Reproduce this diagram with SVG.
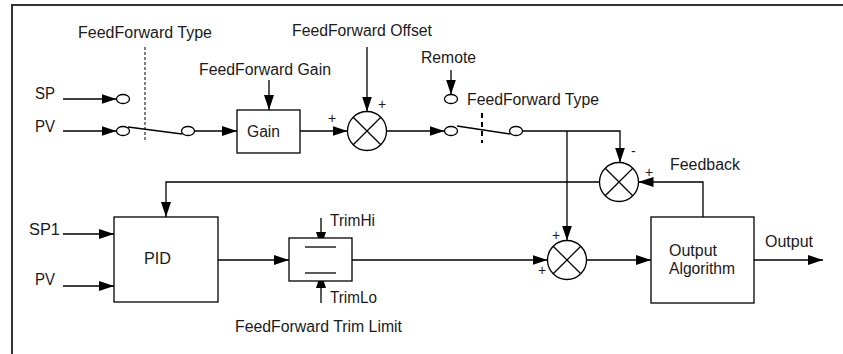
<svg xmlns="http://www.w3.org/2000/svg" width="843" height="354" viewBox="0 0 843 354">
<style>
text{font-family:"Liberation Sans",Arial,sans-serif;font-size:16px;fill:#1a1a1a}
.s{font-size:14px}
.ln{stroke:#000;stroke-width:1.3;fill:none}
.ar{stroke:#000;stroke-width:1.3;fill:none;marker-end:url(#ah)}
.box{stroke:#000;stroke-width:1.3;fill:#fff}
.ct{stroke:#000;stroke-width:1.3;fill:#fff}
</style>
<defs>
<marker id="ah" markerUnits="userSpaceOnUse" markerWidth="15" markerHeight="10" refX="15" refY="5" orient="auto">
<path d="M0,0 L15,5 L0,10 z" fill="#000"/>
</marker>
</defs>
<rect width="843" height="354" fill="#fff"/>
<polyline points="12,354 12,5 843,5" fill="none" stroke="#333" stroke-width="2"/>

<g id="connectors">
<line class="ar" x1="63" y1="99" x2="116.5" y2="99"/>
<line class="ar" x1="63" y1="131" x2="116.5" y2="131"/>
<line class="ln" x1="128" y1="127" x2="182" y2="134"/>
<line x1="145" y1="47" x2="145" y2="140" stroke="#000" stroke-width="1" stroke-dasharray="3,2"/>
<line class="ar" x1="194.5" y1="131" x2="237" y2="131"/>
<line class="ar" x1="269" y1="80" x2="269" y2="110"/>
<line class="ar" x1="300" y1="131" x2="347.5" y2="131"/>
<line class="ar" x1="367" y1="47" x2="367" y2="111.5"/>
<line class="ar" x1="386.5" y1="131" x2="444.5" y2="131"/>
<line class="ar" x1="451" y1="70" x2="451" y2="94.5"/>
<line class="ln" x1="457" y1="126" x2="510" y2="134"/>
<line x1="482" y1="113" x2="482" y2="143" stroke="#000" stroke-width="2" stroke-dasharray="5,4"/>
<polyline class="ar" points="522.5,131 620,131 620,162.5"/>
<line class="ar" x1="567" y1="131" x2="567" y2="240.5"/>
<polyline class="ar" points="599.5,182 166,182 166,217"/>
<polyline class="ar" points="703,217 703,182 638.5,182"/>
<line class="ar" x1="63" y1="234" x2="114" y2="234"/>
<line class="ar" x1="63" y1="286" x2="114" y2="286"/>
<line class="ar" x1="218" y1="260" x2="289" y2="260"/>
<line class="ar" x1="321" y1="218" x2="321" y2="247"/>
<line class="ar" x1="321" y1="303" x2="321" y2="273"/>
<line class="ar" x1="352" y1="260" x2="547.5" y2="260"/>
<line class="ar" x1="586.5" y1="260" x2="651" y2="260"/>
<line class="ar" x1="754" y1="260" x2="823" y2="260"/>
</g>

<g id="contact-sp"><ellipse class="ct" cx="123" cy="99" rx="6.5" ry="4.5"/></g>
<g id="contact-pv"><ellipse class="ct" cx="123" cy="131" rx="6.5" ry="4.5"/></g>
<g id="contact-ff1"><ellipse class="ct" cx="188" cy="131" rx="6.5" ry="4.5"/></g>
<g id="contact-in2"><ellipse class="ct" cx="451" cy="131" rx="6.5" ry="4.5"/></g>
<g id="contact-remote"><ellipse class="ct" cx="451" cy="99" rx="6.5" ry="4.5"/></g>
<g id="contact-out2"><ellipse class="ct" cx="516" cy="131" rx="6.5" ry="4.5"/></g>

<g id="gain">
<rect class="box" x="237" y="110" width="63" height="43"/>
<text x="247" y="137" textLength="33" lengthAdjust="spacingAndGlyphs">Gain</text>
</g>

<g id="sum-offset">
<circle class="box" cx="367" cy="131" r="19.5"/>
<path class="ln" d="M353.2,117.2 L380.8,144.8 M380.8,117.2 L353.2,144.8"/>
</g>

<g id="sum-feedback">
<circle class="box" cx="619" cy="182" r="19.5"/>
<path class="ln" d="M605.2,168.2 L632.8,195.8 M632.8,168.2 L605.2,195.8"/>
</g>

<g id="sum-output">
<circle class="box" cx="567" cy="260" r="19.5"/>
<path class="ln" d="M553.2,246.2 L580.8,273.8 M580.8,246.2 L553.2,273.8"/>
</g>

<g id="pid">
<rect class="box" x="114" y="217" width="104" height="85"/>
<text x="144" y="264" textLength="27" lengthAdjust="spacingAndGlyphs">PID</text>
</g>

<g id="trim">
<rect class="box" x="289" y="238" width="63" height="43"/>
<line class="ln" x1="305" y1="247" x2="336" y2="247"/>
<line class="ln" x1="305" y1="273" x2="336" y2="273"/>
</g>

<g id="output-algorithm">
<rect class="box" x="651" y="217" width="103" height="86"/>
<text x="669" y="256" textLength="48" lengthAdjust="spacingAndGlyphs">Output</text>
<text x="669" y="274" textLength="66" lengthAdjust="spacingAndGlyphs">Algorithm</text>
</g>

<g id="labels">
<text x="78" y="38" textLength="134" lengthAdjust="spacingAndGlyphs">FeedForward Type</text>
<text x="292" y="36" textLength="140" lengthAdjust="spacingAndGlyphs">FeedForward Offset</text>
<text x="199" y="75" textLength="132" lengthAdjust="spacingAndGlyphs">FeedForward Gain</text>
<text x="421" y="63" textLength="55" lengthAdjust="spacingAndGlyphs">Remote</text>
<text x="467" y="105" textLength="132" lengthAdjust="spacingAndGlyphs">FeedForward Type</text>
<text x="670" y="170" textLength="70" lengthAdjust="spacingAndGlyphs">Feedback</text>
<text x="35" y="99" textLength="20" lengthAdjust="spacingAndGlyphs">SP</text>
<text x="35" y="132" textLength="20" lengthAdjust="spacingAndGlyphs">PV</text>
<text x="29" y="235" textLength="31" lengthAdjust="spacingAndGlyphs">SP1</text>
<text x="35" y="285" textLength="20" lengthAdjust="spacingAndGlyphs">PV</text>
<text x="330" y="226" textLength="45" lengthAdjust="spacingAndGlyphs">TrimHi</text>
<text x="330" y="303" textLength="47" lengthAdjust="spacingAndGlyphs">TrimLo</text>
<text x="235" y="332" textLength="167" lengthAdjust="spacingAndGlyphs">FeedForward Trim Limit</text>
<text x="765" y="247" textLength="48" lengthAdjust="spacingAndGlyphs">Output</text>
<text class="s" x="328" y="123">+</text>
<text class="s" x="378" y="109">+</text>
<text class="s" x="631" y="156">-</text>
<text class="s" x="645" y="177">+</text>
<text class="s" x="552" y="240">+</text>
<text class="s" x="538" y="275">+</text>
</g>
</svg>
